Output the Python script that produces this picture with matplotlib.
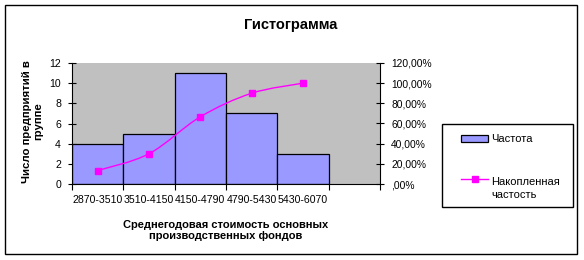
import matplotlib
matplotlib.use("Agg")
import matplotlib.pyplot as plt
from matplotlib.patches import Rectangle, PathPatch
from matplotlib.path import Path
from matplotlib.lines import Line2D
from matplotlib.legend_handler import HandlerLine2D
from matplotlib.ticker import FuncFormatter, FixedLocator, NullFormatter
import numpy as np

plt.rcParams['font.family'] = ['Liberation Sans', 'DejaVu Sans']

categories = ["2870-3510", "3510-4150", "4150-4790", "4790-5430", "5430-6070"]
frequency = [4, 5, 11, 7, 3]
cumulative = [0.1333, 0.30, 0.6667, 0.90, 1.00]

title = "Гистограмма"
xlabel = "Среднегодовая стоимость основных\nпроизводственных фондов"
ylabel = "Число предприятий в\nгруппе"
legend_labels = ["Частота", "Накопленная\nчастость"]

W, H = 584, 260
fig = plt.figure(figsize=(W/100, H/100), dpi=100)
fig.patch.set_facecolor("white")
# outer chart border
fig.patches.append(Rectangle((5/W, 1 - 254/H), 572/W, 249/H,
                             transform=fig.transFigure, fill=False,
                             edgecolor="black", linewidth=1.0))
fig.text(291/W, 1 - 25.5/H, title, ha="center", va="center",
         fontsize=10.5, fontweight="bold")

ax = fig.add_axes([72/W, 1 - 184/H, 308/W, 121/H])
ax.set_facecolor("#C0C0C0")
x = np.arange(len(categories))
ax.bar(x, frequency, width=1.0, color="#9999FF", edgecolor="black", linewidth=0.9, zorder=2)
ax.set_xlim(-0.5, len(categories) + 0.5)
ax.set_ylim(0, 12)
ax.set_yticks(range(0, 13, 2))
ax.xaxis.set_major_locator(FixedLocator(np.arange(-0.5, len(categories) + 1, 1)))
ax.xaxis.set_major_formatter(NullFormatter())
ax.xaxis.set_minor_locator(FixedLocator(x))
ax.set_xticklabels(categories, minor=True)
ax.tick_params(axis="x", which="minor", length=0, pad=8, labelsize=7.6)
ax.tick_params(axis="x", which="major", length=4, direction="out")
ax.tick_params(axis="y", length=6, direction="inout", labelsize=7.6, pad=5)
for s in ["top", "right"]:
    ax.spines[s].set_visible(False)
ax.set_xlabel(xlabel, fontsize=8, fontweight="bold", labelpad=10.5)
ax.set_ylabel(ylabel, fontsize=8.2, fontweight="bold")
ax.yaxis.set_label_coords(-0.092, 0.52)

ax2 = ax.twinx()
ax2.set_ylim(0, 1.2)
ax2.set_yticks(np.arange(0, 1.21, 0.2))
def pct(v, pos):
    s = f"{v*100:.2f}".replace(".", ",") + "%"
    if s.startswith("0,"):
        s = s[1:]
    return s
ax2.yaxis.set_major_formatter(FuncFormatter(pct))
ax2.tick_params(axis="y", length=6, direction="inout", labelsize=7.4, pad=5)
for s in ["top", "left", "bottom"]:
    ax2.spines[s].set_visible(False)

# smoothed line (Catmull-Rom as cubic Bezier segments)
px = np.array(x, dtype=float)
py = np.array(cumulative, dtype=float)
verts = [(px[0], py[0])]
codes = [Path.MOVETO]
n = len(px)
for i in range(n - 1):
    p0 = np.array([px[max(i-1, 0)], py[max(i-1, 0)]])
    p1 = np.array([px[i], py[i]])
    p2 = np.array([px[i+1], py[i+1]])
    p3 = np.array([px[min(i+2, n-1)], py[min(i+2, n-1)]])
    c1 = p1 + (p2 - p0) / 6
    c2 = p2 - (p3 - p1) / 6
    verts += [tuple(c1), tuple(c2), tuple(p2)]
    codes += [Path.CURVE4] * 3
ax2.add_patch(PathPatch(Path(verts, codes), fill=False, edgecolor="#FF00FF", linewidth=1.0, zorder=3))
ax2.plot(px, py, linestyle="none", marker="s", markersize=4.5, color="#FF00FF", zorder=4)


class TopAlignedLine(HandlerLine2D):
    def create_artists(self, legend, orig_handle, xdescent, ydescent,
                       width, height, fontsize, trans):
        arts = super().create_artists(legend, orig_handle, xdescent, ydescent,
                                      width, height, fontsize, trans)
        for a in arts:
            a.set_ydata(np.asarray(a.get_ydata()) + 0.85 * fontsize)
        return arts


# legend box
fig.patches.append(Rectangle((442/W, 1 - 207/H), 131/W, 83/H,
                             transform=fig.transFigure, fill=False,
                             edgecolor="black", linewidth=1.0))
line_handle = Line2D([], [], color="#FF00FF", marker="s", markersize=4.5, linewidth=1.0)
handles = [Rectangle((0, 0), 1, 1, facecolor="#9999FF", edgecolor="black", linewidth=0.9),
           line_handle]
leg = fig.legend(handles, legend_labels, loc="upper left",
                 bbox_to_anchor=(461/W, 1 - 134/H), fontsize=8,
                 frameon=False, labelspacing=2.95, handlelength=2.45,
                 handleheight=0.6, handletextpad=0.28,
                 borderpad=0, borderaxespad=0,
                 handler_map={line_handle: TopAlignedLine()})
for t in leg.get_texts():
    t.set_linespacing(1.4)

fig.savefig("out.png", dpi=100)
